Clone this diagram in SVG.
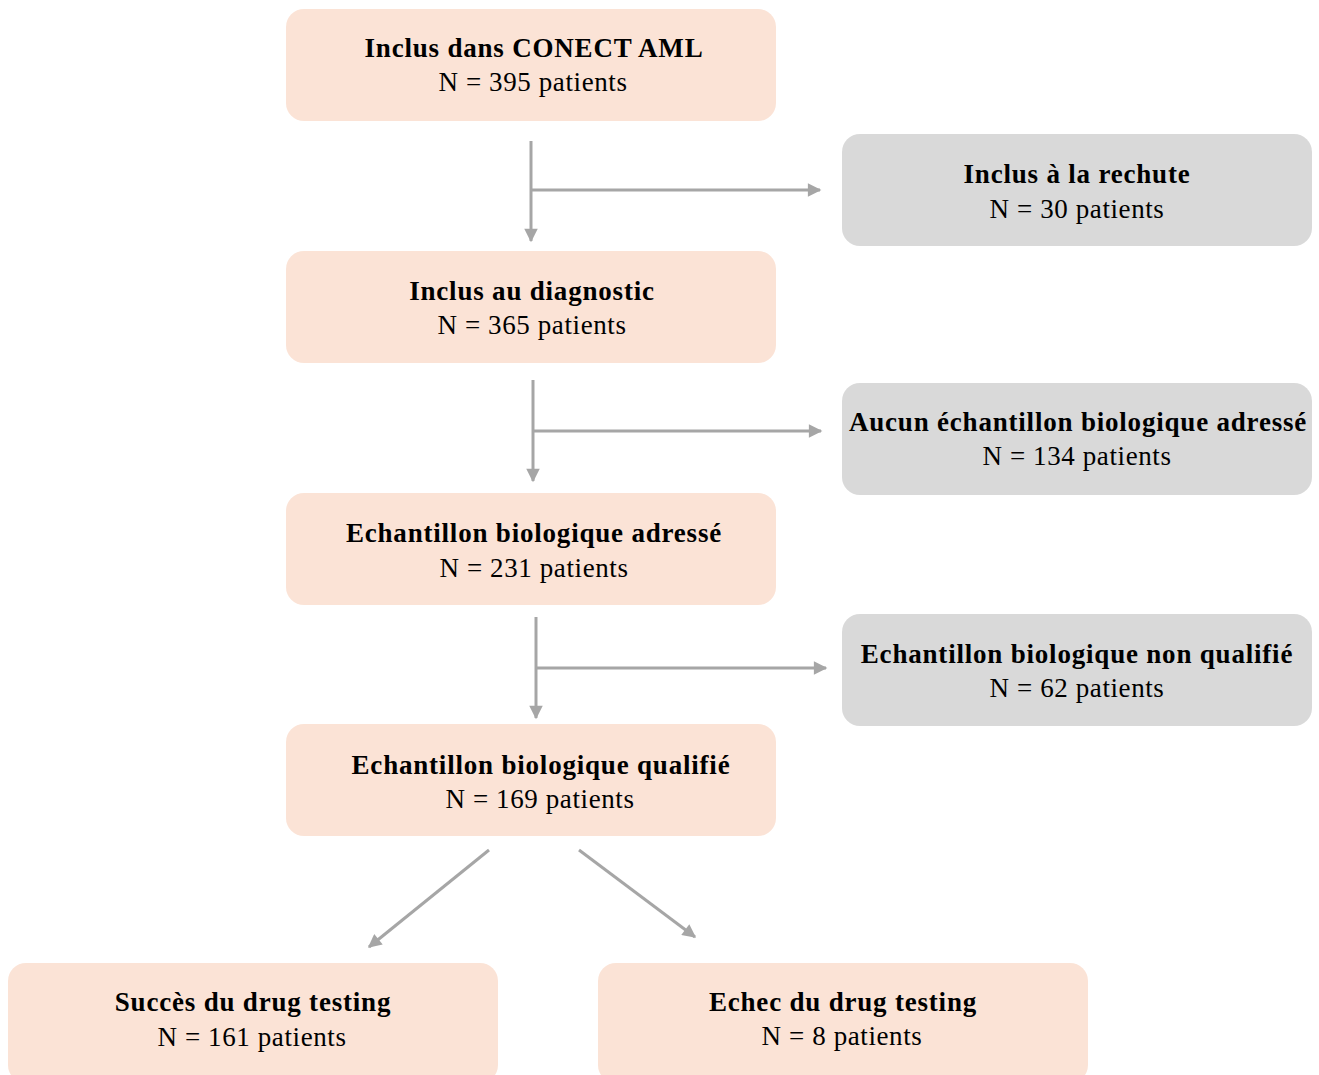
<svg xmlns="http://www.w3.org/2000/svg" width="1319" height="1075" viewBox="0 0 1319 1075">
<style>
.p{fill:#FBE3D6}
.g{fill:#D9D9D9}
.t{font-family:"Liberation Serif","Times New Roman",serif;font-size:27px;font-weight:bold;fill:#000;text-anchor:middle;letter-spacing:0.8px}
.n{font-family:"Liberation Serif","Times New Roman",serif;font-size:27px;fill:#000;text-anchor:middle;letter-spacing:0.6px}
.c{stroke:#A6A6A6;stroke-width:3;fill:none}
</style>
<defs>
<marker id="ah" viewBox="0 0 10 10" refX="9" refY="5" markerWidth="5" markerHeight="4.5" orient="auto" markerUnits="strokeWidth">
<path d="M0,0 L10,5 L0,10 z" fill="#A6A6A6"/>
</marker>
</defs>
<g id="connectors">
<line class="c" x1="531" y1="141" x2="531" y2="241" marker-end="url(#ah)"/>
<line class="c" x1="531" y1="190" x2="820" y2="190" marker-end="url(#ah)"/>
<line class="c" x1="533" y1="380" x2="533" y2="481" marker-end="url(#ah)"/>
<line class="c" x1="533" y1="431" x2="821" y2="431" marker-end="url(#ah)"/>
<line class="c" x1="536" y1="617" x2="536" y2="718" marker-end="url(#ah)"/>
<line class="c" x1="536" y1="668" x2="826" y2="668" marker-end="url(#ah)"/>
<line class="c" x1="489" y1="850" x2="369" y2="947" marker-end="url(#ah)"/>
<line class="c" x1="579" y1="850" x2="695" y2="937" marker-end="url(#ah)"/>
</g>
<g id="n1"><rect class="p" x="286" y="9" width="490" height="112" rx="18"/><text class="t" x="534" y="57">Inclus dans CONECT AML</text><text class="n" x="533" y="91">N = 395 patients</text></g>
<g id="n2"><rect class="p" x="286" y="251" width="490" height="112" rx="18"/><text class="t" x="532" y="300">Inclus au diagnostic</text><text class="n" x="532" y="334">N = 365 patients</text></g>
<g id="n3"><rect class="p" x="286" y="493" width="490" height="112" rx="18"/><text class="t" x="534" y="542">Echantillon biologique adressé</text><text class="n" x="534" y="577">N = 231 patients</text></g>
<g id="n4"><rect class="p" x="286" y="724" width="490" height="112" rx="18"/><text class="t" x="541" y="774">Echantillon biologique qualifié</text><text class="n" x="540" y="808">N = 169 patients</text></g>
<g id="r1"><rect class="g" x="842" y="134" width="470" height="112" rx="18"/><text class="t" x="1077" y="183">Inclus à la rechute</text><text class="n" x="1077" y="218">N = 30 patients</text></g>
<g id="r2"><rect class="g" x="842" y="383" width="470" height="112" rx="18"/><text class="t" x="1078" y="431">Aucun échantillon biologique adressé</text><text class="n" x="1077" y="465">N = 134 patients</text></g>
<g id="r3"><rect class="g" x="842" y="614" width="470" height="112" rx="18"/><text class="t" x="1077" y="663">Echantillon biologique non qualifié</text><text class="n" x="1077" y="697">N = 62 patients</text></g>
<g id="b1"><rect class="p" x="8" y="963" width="490" height="120" rx="18"/><text class="t" x="253" y="1011">Succès du drug testing</text><text class="n" x="252" y="1046">N = 161 patients</text></g>
<g id="b2"><rect class="p" x="598" y="963" width="490" height="120" rx="18"/><text class="t" x="843" y="1011">Echec du drug testing</text><text class="n" x="842" y="1045">N = 8 patients</text></g>
</svg>
